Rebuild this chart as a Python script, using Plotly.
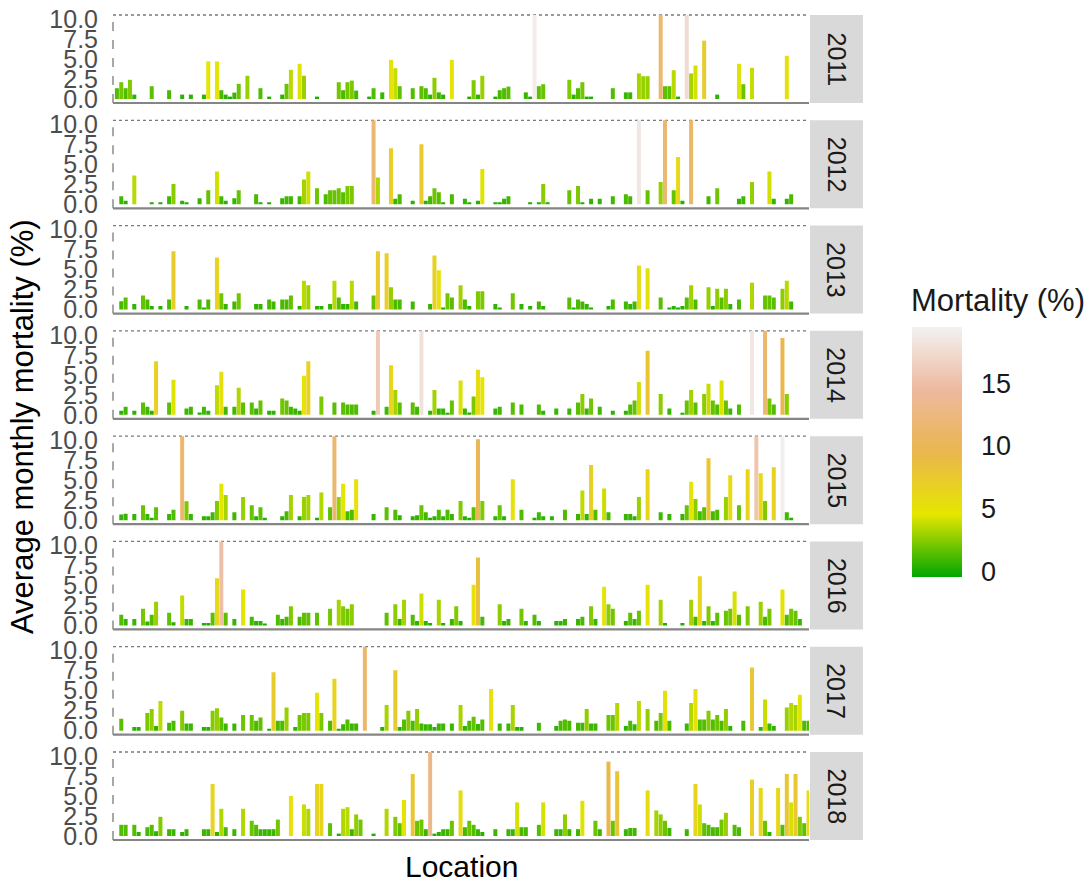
import plotly.graph_objects as go

# ---------------------------------------------------------------
# Average monthly mortality (%) per location, one panel per year.
# Each entry is (location index, mortality %). Locations with no
# record for a year are simply absent.
# ---------------------------------------------------------------
n_locations = 160
years = ["2011", "2012", "2013", "2014", "2015", "2016", "2017", "2018"]

mort_2011 = [
    (0, 1.35), (1, 2.1), (2, 1.35), (3, 2.4), (4, 0.55), (8, 1.6), (12, 1.1), (15, 0.55),
    (17, 0.55), (20, 0.55), (21, 4.7), (23, 4.7), (24, 1.1), (25, 0.55), (26, 0.3), (27, 0.8),
    (28, 1.9), (30, 2.9), (33, 1.35), (35, 0.3), (38, 0.55), (39, 1.9), (40, 3.65), (42, 4.4),
    (43, 2.9), (46, 0.3), (51, 2.1), (52, 1.1), (53, 2.1), (54, 2.3), (55, 1.05), (58, 0.3),
    (59, 1.35), (61, 0.83), (63, 4.9), (64, 3.85), (65, 1.6), (68, 1.35), (70, 1.6), (71, 1.35),
    (72, 0.55), (73, 2.65), (74, 0.83), (75, 0.55), (77, 4.9), (81, 0.3), (82, 2.35), (83, 0.55),
    (84, 2.9), (87, 0.3), (88, 1.1), (89, 1.35), (90, 1.55), (94, 0.83), (95, 0.3), (96, 19.0),
    (97, 1.6), (98, 1.85), (104, 2.4), (105, 0.55), (106, 1.35), (107, 2.1), (108, 0.3), (109, 0.3),
    (114, 1.35), (117, 0.83), (118, 0.83), (120, 3.2), (121, 2.85), (122, 2.85), (125, 11.5),
    (126, 1.6), (127, 1.6), (128, 3.6), (129, 0.3), (131, 17.5), (132, 3.2), (133, 4.2), (135, 7.3),
    (138, 0.55), (143, 4.4), (144, 1.85), (146, 3.9), (154, 5.4),
]

mort_2012 = [
    (1, 1.0), (2, 0.45), (4, 3.6), (8, 0.25), (10, 0.25), (12, 1.0), (13, 2.55), (15, 0.45),
    (16, 0.25), (19, 0.75), (21, 1.75), (23, 4.1), (24, 1.0), (25, 0.45), (27, 0.75), (28, 1.75),
    (32, 1.25), (33, 0.25), (35, 0.25), (38, 0.75), (39, 1.0), (40, 1.0), (42, 1.0), (43, 3.1),
    (44, 4.1), (46, 2.0), (48, 1.25), (49, 1.75), (50, 1.75), (51, 2.0), (52, 1.5), (53, 2.3),
    (54, 2.3), (59, 11.5), (60, 3.35), (63, 7.0), (64, 0.7), (65, 1.25), (68, 0.45), (70, 7.5),
    (71, 0.45), (72, 1.0), (73, 2.0), (74, 1.5), (75, 0.25), (77, 1.25), (80, 0.7), (81, 0.25),
    (83, 0.45), (84, 4.4), (87, 0.25), (88, 0.25), (89, 0.7), (90, 1.0), (95, 0.25), (97, 0.25),
    (98, 2.55), (99, 0.25), (104, 1.75), (106, 2.3), (107, 0.25), (109, 0.7), (111, 0.7),
    (114, 1.0), (117, 1.25), (118, 1.0), (120, 18.5), (122, 1.75), (125, 2.8), (126, 11.5),
    (128, 1.75), (129, 5.9), (130, 0.45), (132, 11.2), (136, 1.0), (138, 2.0), (143, 0.7),
    (144, 1.0), (146, 2.8), (150, 4.1), (151, 0.7), (154, 0.7), (155, 1.25),
]

mort_2013 = [
    (1, 1.05), (2, 1.5), (4, 0.7), (6, 1.75), (7, 1.25), (8, 0.45), (10, 0.45), (12, 1.25),
    (13, 7.3), (16, 0.45), (19, 1.25), (20, 0.2), (21, 1.25), (23, 6.5), (24, 2.05), (25, 0.7),
    (27, 1.0), (28, 2.05), (32, 0.7), (33, 0.7), (35, 1.25), (36, 1.0), (38, 1.25), (39, 1.25),
    (40, 1.75), (42, 0.45), (43, 3.6), (44, 3.05), (46, 0.45), (47, 0.45), (49, 0.7), (50, 3.6),
    (51, 1.5), (52, 0.7), (53, 0.7), (54, 3.6), (55, 1.0), (59, 1.75), (60, 7.3), (62, 7.05),
    (63, 2.8), (64, 1.25), (65, 1.25), (68, 1.0), (72, 0.7), (73, 6.75), (74, 4.9), (75, 0.2),
    (76, 2.05), (77, 1.5), (79, 3.05), (80, 1.25), (81, 0.45), (83, 2.3), (84, 2.3), (87, 0.7),
    (88, 0.2), (91, 2.05), (93, 0.7), (95, 0.45), (97, 1.0), (98, 0.45), (104, 1.5), (105, 0.2),
    (106, 1.25), (107, 1.0), (108, 0.7), (109, 0.2), (113, 0.45), (114, 1.25), (117, 1.0),
    (118, 0.7), (119, 1.0), (120, 5.5), (122, 5.15), (125, 1.5), (127, 0.2), (128, 0.45),
    (129, 0.2), (130, 0.45), (131, 1.5), (132, 3.05), (133, 1.25), (136, 2.8), (137, 0.45),
    (138, 2.6), (139, 1.5), (140, 2.6), (141, 0.7), (143, 1.25), (146, 3.35), (149, 1.75),
    (150, 1.75), (151, 1.5), (153, 2.6), (154, 3.6), (155, 1.0),
]

mort_2014 = [
    (1, 0.5), (2, 1.0), (4, 0.5), (6, 1.55), (7, 1.0), (8, 0.5), (9, 6.7), (12, 1.55), (13, 4.4),
    (16, 0.8), (17, 1.0), (19, 0.3), (20, 1.0), (21, 0.5), (23, 3.7), (24, 5.4), (25, 1.0),
    (27, 1.0), (28, 3.4), (29, 1.55), (31, 1.55), (32, 0.8), (33, 1.8), (35, 0.5), (36, 0.5),
    (38, 2.05), (39, 1.8), (40, 1.0), (41, 0.8), (42, 0.5), (43, 4.9), (44, 6.7), (47, 2.3),
    (50, 1.55), (52, 1.55), (53, 1.3), (54, 1.3), (55, 1.3), (59, 0.5), (60, 16.0), (62, 1.0),
    (63, 6.2), (64, 3.1), (65, 1.55), (68, 1.55), (69, 1.0), (70, 18.0), (72, 0.5), (73, 3.1),
    (74, 0.8), (75, 0.8), (76, 0.25), (77, 1.8), (79, 4.3), (80, 0.8), (81, 0.3), (82, 2.3),
    (83, 5.65), (84, 4.7), (87, 0.8), (88, 1.0), (91, 1.55), (93, 1.3), (97, 1.3), (98, 0.5),
    (101, 0.8), (104, 0.8), (106, 1.55), (107, 2.6), (108, 0.8), (109, 2.05), (111, 1.0),
    (114, 0.5), (117, 0.5), (118, 1.3), (119, 1.8), (120, 4.1), (122, 8.0), (125, 2.6),
    (127, 0.8), (130, 0.25), (131, 1.8), (132, 3.1), (133, 1.55), (135, 2.6), (136, 3.9),
    (137, 1.8), (138, 1.3), (139, 4.3), (140, 1.8), (141, 0.8), (143, 1.3), (146, 18.5),
    (149, 11.5), (150, 2.05), (151, 1.3), (153, 9.6), (154, 2.6),
]

mort_2015 = [
    (1, 0.7), (2, 0.8), (4, 0.78), (6, 1.85), (7, 0.78), (8, 0.3), (9, 1.6), (12, 0.78),
    (13, 1.3), (15, 11.5), (16, 2.35), (17, 0.78), (20, 0.5), (21, 0.5), (22, 1.0), (23, 2.4),
    (24, 4.55), (25, 3.15), (27, 1.0), (29, 2.9), (31, 1.85), (32, 0.5), (33, 1.6), (34, 0.3),
    (38, 0.5), (39, 1.1), (40, 3.15), (42, 0.5), (43, 2.9), (44, 3.15), (46, 0.3), (47, 3.45),
    (49, 1.6), (50, 11.5), (51, 2.9), (52, 4.55), (53, 1.1), (54, 1.3), (55, 5.1), (59, 0.78),
    (62, 1.6), (64, 1.3), (65, 0.6), (68, 0.5), (69, 0.6), (70, 1.85), (71, 1.0), (72, 0.3),
    (73, 0.5), (74, 1.3), (75, 0.5), (76, 1.3), (77, 0.78), (79, 2.4), (80, 0.5), (81, 0.3),
    (82, 1.6), (83, 10.1), (84, 2.4), (87, 0.5), (88, 1.85), (89, 0.5), (91, 5.1), (93, 1.3),
    (96, 0.3), (97, 1.0), (98, 0.5), (100, 0.5), (103, 1.3), (106, 0.78), (107, 3.7), (108, 0.78),
    (109, 6.9), (110, 1.3), (112, 3.95), (113, 1.0), (117, 0.78), (118, 0.78), (119, 0.5),
    (120, 2.9), (122, 6.35), (125, 1.0), (127, 0.78), (130, 0.78), (131, 1.85), (132, 4.8),
    (133, 2.65), (134, 1.1), (135, 1.6), (136, 7.75), (137, 1.1), (138, 1.3), (140, 2.9),
    (141, 5.6), (143, 1.85), (145, 6.35), (147, 15.5), (148, 5.85), (149, 2.4), (151, 6.6),
    (153, 19.3), (154, 1.0), (155, 0.3),
]

mort_2016 = [
    (1, 1.35), (2, 0.8), (4, 0.8), (6, 2.1), (7, 0.5), (8, 1.35), (9, 2.95), (12, 1.6), (13, 0.4),
    (15, 3.75), (16, 0.8), (17, 0.8), (20, 0.3), (21, 0.3), (22, 1.6), (23, 5.9), (24, 15.0),
    (25, 1.6), (27, 0.8), (29, 4.5), (31, 1.1), (32, 0.55), (33, 0.55), (34, 0.2), (37, 1.35),
    (38, 0.8), (39, 1.1), (40, 2.4), (42, 1.1), (43, 1.6), (44, 1.6), (46, 1.6), (49, 2.1),
    (51, 3.2), (52, 2.4), (53, 2.1), (54, 2.65), (62, 1.6), (64, 2.65), (65, 0.8), (66, 3.2),
    (68, 1.35), (69, 0.55), (70, 4.0), (71, 0.55), (72, 0.3), (74, 3.2), (75, 0.3), (77, 0.8),
    (78, 2.4), (79, 0.55), (82, 5.1), (83, 8.5), (84, 1.1), (88, 2.65), (89, 0.55), (90, 0.8),
    (93, 2.1), (94, 0.55), (96, 1.35), (97, 0.55), (101, 0.55), (102, 0.55), (103, 0.8),
    (106, 0.8), (107, 1.1), (109, 2.4), (110, 0.8), (112, 4.85), (113, 2.65), (114, 2.1),
    (117, 0.55), (118, 1.6), (119, 0.8), (120, 1.85), (122, 5.1), (125, 3.2), (126, 0.3),
    (130, 0.3), (132, 3.2), (133, 1.1), (134, 6.15), (135, 0.55), (136, 2.4), (137, 0.55),
    (138, 1.6), (140, 1.85), (141, 2.1), (142, 4.25), (143, 1.35), (145, 2.4), (148, 2.95),
    (149, 1.1), (150, 2.1), (153, 4.5), (154, 1.35), (155, 2.1), (156, 1.85), (157, 0.8),
]

mort_2017 = [
    (1, 1.5), (4, 0.45), (5, 0.45), (7, 2.2), (8, 2.7), (9, 0.6), (10, 3.7), (12, 1.0), (13, 1.25),
    (15, 2.5), (16, 0.9), (17, 0.9), (20, 0.45), (21, 0.45), (22, 2.5), (23, 2.8), (24, 1.65),
    (25, 0.9), (27, 0.9), (29, 1.95), (31, 1.95), (32, 1.25), (33, 1.65), (35, 0.15), (36, 7.3),
    (37, 1.25), (38, 1.25), (39, 2.9), (41, 0.45), (42, 1.95), (43, 2.2), (44, 2.2), (46, 4.75),
    (47, 2.2), (49, 1.25), (50, 6.5), (51, 0.25), (52, 0.8), (53, 1.4), (54, 0.9), (55, 0.9),
    (57, 11.5), (61, 0.45), (62, 3.2), (64, 7.55), (65, 0.45), (66, 1.4), (67, 2.5), (68, 1.25),
    (69, 2.7), (70, 0.9), (71, 0.8), (72, 0.8), (73, 0.45), (74, 0.9), (75, 0.9), (77, 0.9),
    (79, 3.2), (80, 0.6), (81, 1.25), (82, 1.75), (83, 0.85), (84, 1.4), (86, 5.2), (88, 0.9),
    (90, 0.9), (91, 3.2), (92, 0.45), (93, 0.45), (97, 1.0), (101, 0.6), (102, 1.25), (103, 1.4),
    (104, 1.25), (106, 1.0), (107, 1.0), (108, 2.7), (109, 0.9), (110, 0.9), (113, 1.95),
    (114, 1.95), (115, 3.45), (117, 0.6), (118, 1.25), (119, 0.8), (120, 3.7), (122, 2.7),
    (124, 1.25), (125, 2.2), (126, 5.0), (127, 1.25), (131, 0.9), (132, 3.45), (133, 5.2),
    (134, 1.4), (135, 1.4), (136, 2.5), (137, 1.4), (138, 1.95), (139, 1.25), (140, 2.7),
    (141, 0.6), (144, 1.25), (146, 7.9), (148, 0.45), (149, 3.9), (150, 0.9), (151, 0.6),
    (154, 2.9), (155, 3.45), (156, 3.2), (157, 4.5), (158, 1.25), (159, 1.25),
]

mort_2018 = [
    (1, 1.4), (2, 1.4), (4, 1.4), (5, 0.5), (7, 1.1), (8, 1.4), (9, 0.6), (10, 2.4), (12, 0.85),
    (13, 0.85), (15, 0.5), (16, 0.85), (20, 0.85), (21, 0.85), (22, 6.5), (23, 0.5), (24, 3.4),
    (25, 1.1), (27, 0.85), (29, 3.4), (31, 1.9), (32, 1.4), (33, 0.85), (34, 0.85), (35, 0.85),
    (36, 0.85), (37, 2.05), (40, 5.0), (43, 3.95), (44, 3.4), (46, 6.5), (47, 6.5), (49, 1.6),
    (51, 0.3), (52, 3.4), (53, 3.6), (54, 0.85), (55, 2.7), (56, 2.05), (59, 0.3), (62, 3.4),
    (64, 2.4), (65, 1.6), (66, 4.5), (68, 7.75), (69, 1.9), (70, 2.05), (71, 0.85), (72, 13.0),
    (73, 0.3), (74, 0.5), (75, 0.85), (76, 0.85), (77, 1.9), (79, 5.7), (80, 1.1), (81, 1.9),
    (82, 1.4), (83, 0.85), (84, 0.5), (87, 0.85), (90, 0.85), (91, 0.85), (92, 4.2), (93, 1.1),
    (94, 1.1), (97, 1.4), (98, 4.2), (101, 0.85), (102, 0.85), (103, 2.7), (104, 0.85),
    (106, 0.85), (107, 4.4), (110, 1.9), (111, 0.85), (113, 9.3), (114, 1.9), (115, 8.1),
    (117, 0.85), (118, 1.0), (119, 1.0), (122, 5.7), (124, 3.2), (125, 2.7), (126, 1.9),
    (127, 1.0), (131, 0.85), (133, 6.5), (134, 3.95), (135, 1.6), (136, 1.4), (137, 1.1),
    (138, 1.1), (139, 2.05), (140, 2.9), (142, 1.4), (143, 1.1), (146, 7.05), (148, 6.0),
    (149, 1.9), (150, 0.5), (152, 6.0), (153, 1.4), (154, 7.75), (155, 4.2), (156, 7.75),
    (157, 2.4), (158, 1.6), (159, 5.7),
]

panels = [mort_2011, mort_2012, mort_2013, mort_2014,
          mort_2015, mort_2016, mort_2017, mort_2018]

# colour scale (terrain palette) and its limits
terrain = ["#00A600", "#E6E600", "#EAB64E", "#EEB99F", "#F2F2F2"]
c_min, c_max = -0.4, 19.45
y_ticks = [0, 2.5, 5, 7.5, 10]
y_tick_text = ["0.0", "2.5", "5.0", "7.5", "10.0"]
legend_ticks = [0, 5, 10, 15]

# ---------------------------------------------------------------
# page geometry (pixels)
# ---------------------------------------------------------------
W, H = 1088, 885
M_L, M_R, M_T, M_B = 113, 1088 - 809, 15, 45
plot_w = W - M_L - M_R
plot_h = H - M_T - M_B
panel_h = 88.0
panel_step = (plot_h - panel_h) / 7

FONT = "Liberation Sans, Arial, sans-serif"


def px_to_paper_y(py):
    return 1 - (py - M_T) / plot_h


def px_to_paper_x(px):
    return (px - M_L) / plot_w


fig = go.Figure()
layout = dict(
    width=W, height=H,
    margin=dict(l=M_L, r=M_R, t=M_T, b=M_B, autoexpand=False),
    paper_bgcolor="white", plot_bgcolor="white",
    showlegend=False, bargap=0.08,
    font=dict(family=FONT, color="#1A1A1A"),
)

shapes = []
annotations = []

for k, (year, pairs) in enumerate(zip(years, panels)):
    n = k + 1
    xa = "x" if n == 1 else f"x{n}"
    ya = "y" if n == 1 else f"y{n}"
    top_px = M_T + k * panel_step
    bot_px = top_px + panel_h
    dom = [max(0.0, px_to_paper_y(bot_px)), min(1.0, px_to_paper_y(top_px))]

    locs = [p[0] for p in pairs]
    vals = [p[1] for p in pairs]
    fig.add_trace(go.Bar(
        x=locs, y=vals, xaxis=xa, yaxis=ya,
        marker=dict(color=vals, coloraxis="coloraxis", line=dict(width=0)),
        hovertemplate="Location %{x}<br>%{y:.2f}%<extra>" + year + "</extra>",
    ))

    layout["xaxis" if n == 1 else f"xaxis{n}"] = dict(
        domain=[0, 1], anchor=ya, range=[-0.9, n_locations - 0.9],
        showticklabels=False, showgrid=False, zeroline=False, ticks="",
        showline=False, automargin=False,
    )
    layout["yaxis" if n == 1 else f"yaxis{n}"] = dict(
        domain=dom, anchor=xa, range=[-0.5, 10.5],
        tickvals=y_ticks, ticktext=y_tick_text,
        tickfont=dict(size=25, color="#4D4D4D", family=FONT),
        ticks="", ticklabelstandoff=14,
        showgrid=False, zeroline=False, showline=False, automargin=False,
    )

    xd, yd = f"{xa} domain", f"{ya} domain"
    # panel outline: dotted top, dashed left, solid axis line at the bottom
    shapes.append(dict(type="line", xref=xd, yref=yd, x0=0, x1=1, y0=1, y1=1,
                       line=dict(color="#7A7A7A", width=1.3, dash="dot"), layer="below"))
    shapes.append(dict(type="line", xref=xd, yref=yd, x0=0, x1=0, y0=0, y1=1,
                       line=dict(color="#7A7A7A", width=1.3, dash="dash"), layer="below"))
    shapes.append(dict(type="line", xref=xd, yref=yd, x0=0, x1=1, y0=0, y1=0,
                       line=dict(color="#858585", width=2.2), layer="above"))

    # facet strip on the right
    shapes.append(dict(type="rect", xref="paper", yref=yd,
                       x0=px_to_paper_x(810), x1=px_to_paper_x(863), y0=0, y1=1,
                       fillcolor="#D9D9D9", line=dict(width=0), layer="below"))
    annotations.append(dict(
        text=year, xref="paper", yref=yd, x=px_to_paper_x(836.5), y=0.5,
        showarrow=False, textangle=90, xanchor="center", yanchor="middle",
        font=dict(size=25, color="#1A1A1A", family=FONT),
    ))

# colour bar geometry
cb_top, cb_bot = 327, 577
cb_left, cb_w = 912, 50
layout["coloraxis"] = dict(
    cmin=c_min, cmax=c_max,
    colorscale=[[i / (len(terrain) - 1), c] for i, c in enumerate(terrain)],
    colorbar=dict(
        thicknessmode="pixels", thickness=cb_w,
        lenmode="pixels", len=cb_bot - cb_top,
        x=px_to_paper_x(cb_left), xanchor="left", xpad=0,
        y=px_to_paper_y((cb_top + cb_bot) / 2), yanchor="middle", ypad=0,
        tickvals=legend_ticks, ticktext=[str(v) for v in legend_ticks],
        # invisible outer ticks keep the labels clear of the bar
        ticks="outside", ticklen=14, tickwidth=1, tickcolor="rgba(255,255,255,0)",
        tickfont=dict(size=27, color="#1A1A1A", family=FONT),
        outlinewidth=0,
    ),
)

# white tick marks on both edges of the colour bar
for v in legend_ticks:
    py = cb_bot - (v - c_min) / (c_max - c_min) * (cb_bot - cb_top)
    yp = px_to_paper_y(py)
    for xa0, xa1 in ((cb_left, cb_left + 8), (cb_left + cb_w - 8, cb_left + cb_w)):
        shapes.append(dict(type="line", xref="paper", yref="paper",
                           x0=px_to_paper_x(xa0), x1=px_to_paper_x(xa1),
                           y0=yp, y1=yp, line=dict(color="white", width=1.5), layer="above"))

# legend title
annotations.append(dict(
    text="Mortality (%)", xref="paper", yref="paper",
    x=px_to_paper_x(909), y=px_to_paper_y(300),
    showarrow=False, xanchor="left", yanchor="middle",
    font=dict(size=31, color="#1A1A1A", family=FONT),
))

# axis titles
annotations.append(dict(
    text="Location", xref="paper", yref="paper",
    x=px_to_paper_x(461), y=px_to_paper_y(866),
    showarrow=False, xanchor="center", yanchor="middle",
    font=dict(size=30, color="#000000", family=FONT),
))
annotations.append(dict(
    text="Average monthly mortality (%)", xref="paper", yref="paper",
    x=px_to_paper_x(22), y=px_to_paper_y(427),
    showarrow=False, textangle=-90, xanchor="center", yanchor="middle",
    font=dict(size=31, color="#000000", family=FONT),
))

layout["shapes"] = shapes
layout["annotations"] = annotations
fig.update_layout(**layout)

fig.write_html("out.html")
